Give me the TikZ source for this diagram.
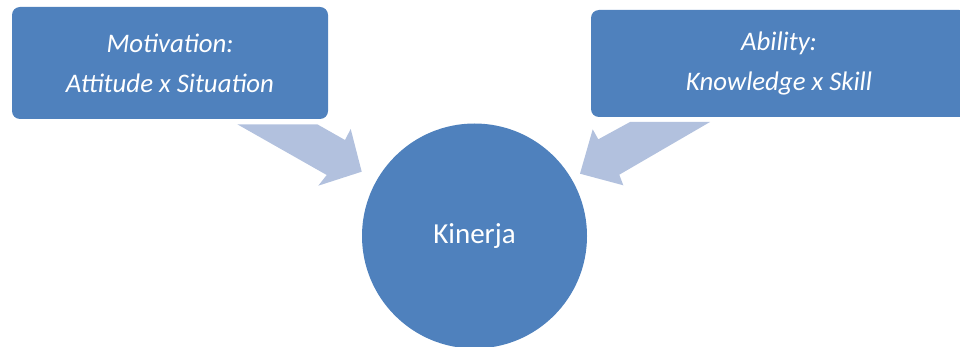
\documentclass[tikz,border=0pt]{standalone}
\usepackage{fontspec}
\setmainfont{Carlito}
\definecolor{boxblue}{HTML}{4F81BD}
\definecolor{arrowblue}{HTML}{B2C1DE}
\begin{document}
\begin{tikzpicture}[x=1pt,y=-1pt,
  bluebox/.style={fill=boxblue, draw=none, rounded corners=8pt, text=white,
    align=center, font=\fontsize{26.8}{40}\selectfont\itshape, inner sep=0pt},
  blockarrow/.style={fill=arrowblue, draw=none}]
\useasboundingbox (0,0) rectangle (960,347);
\clip (0,0) rectangle (960,347);
\node[bluebox, minimum width=316pt, minimum height=112pt] (mot) at (170,63)
  {Motivation:\\Attitude x Situation};
\node[bluebox, minimum width=376pt, minimum height=107pt] (abi) at (779,63.5)
  {Ability:\\Knowledge x Skill};
\fill[blockarrow] (237.3,124.3) -- (317.3,124.3) -- (345,140) -- (350.7,129)
  -- (361.7,171.7) -- (318.3,185.7) -- (326.7,175) -- cycle;
\fill[blockarrow] (710,122) -- (630,122) -- (598.3,139.3) -- (592.7,129.3)
  -- (580,173.7) -- (623.3,185.3) -- (619.3,174.7) -- cycle;
\node[circle, fill=boxblue, draw=none, minimum size=225pt, inner sep=0pt,
  text=white, font=\fontsize{29}{34}\selectfont] (kin) at (474.5,236) {Kinerja};
\end{tikzpicture}
\end{document}
